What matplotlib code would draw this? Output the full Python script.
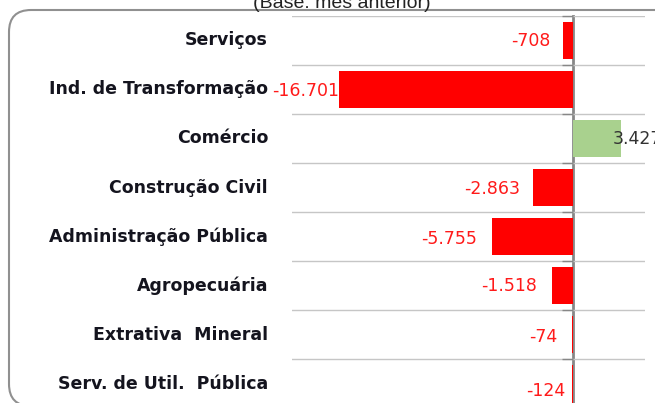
import numpy as np
import matplotlib.pyplot as plt
import matplotlib.transforms as mtransforms
from matplotlib.patches import FancyBboxPatch

# saldo de empregos por setor (base: mês anterior)
setores = ["Serviços", "Ind. de Transformação", "Comércio", "Construção Civil",
           "Administração Pública", "Agropecuária", "Extrativa  Mineral",
           "Serv. de Util.  Pública"]
saldo = [-708, -16701, 3427, -2863, -5755, -1518, -74, -124]

# deslocamento dos rótulos de valor (pixels)
desloc_x = [13, 0, -9, 13, 15, 15, 15, 6]
desloc_y = [-1, -2, -1, -1, -2, 0, -2, -7]

W, H = 655, 403
fig = plt.figure(figsize=(W / 100, H / 100), dpi=100)

# moldura arredondada
moldura = FancyBboxPatch((9, -3), 680, 396, boxstyle="round,pad=0,rounding_size=22",
                         transform=mtransforms.IdentityTransform(),
                         facecolor="none", edgecolor="#909090", lw=1.5)
fig.add_artist(moldura)

fig.text(342 / W, 1 - 8 / H, "(Base: mês anterior)", ha="center", va="baseline",
         fontsize=14, family="Liberation Sans", color="#222222")

x0, x1, zero = 292, 645, 573.3
ax = fig.add_axes([x0 / W, -5.4 / H, (x1 - x0) / W, (403 - 15.7 + 5.4) / H])
ax.patch.set_alpha(0)

y = np.arange(len(setores))
cores = ["#a9d18e" if v > 0 else "#ff0000" for v in saldo]
ax.barh(y, saldo, height=0.76, color=cores, zorder=2)

px = 14.05 / 1000
ax.set_xlim((x0 - zero) / px, (x1 - zero) / px)
ax.set_ylim(len(setores) - 0.5, -0.5)

for s in ["top", "right", "bottom"]:
    ax.spines[s].set_visible(False)
ax.spines["left"].set_position(("data", 0))
ax.spines["left"].set_color("#878787")
ax.spines["left"].set_linewidth(2)
ax.spines["left"].set_zorder(1.5)

ax.set_xticks([])
ax.set_yticks(np.arange(-0.5, len(setores), 1))
ax.set_yticklabels([])
ax.tick_params(axis="y", length=8, width=1, color="#878787", direction="out")
ax.grid(axis="y", color="#c6c6c6", lw=1, zorder=0)

trans = mtransforms.blended_transform_factory(fig.transFigure, ax.transData)
for i, nome in enumerate(setores):
    ax.text(268 / W, i, nome, transform=trans, ha="right", va="center",
            fontsize=12.5, fontweight="bold", family="DejaVu Sans", color="#14141e")

for i, v in enumerate(saldo):
    txt = f"{v:,}".replace(",", ".")
    if v < 0:
        ax.annotate(txt, xy=(v, i), xytext=(-desloc_x[i], desloc_y[i]),
                    textcoords="offset pixels", ha="right", va="center",
                    fontsize=12.5, family="DejaVu Sans", color="#ff1a1a", zorder=4,
                    annotation_clip=False)
    else:
        ax.annotate(txt, xy=(v, i), xytext=(desloc_x[i], desloc_y[i]),
                    textcoords="offset pixels", ha="left", va="center",
                    fontsize=12.5, family="DejaVu Sans", color="#333333", zorder=4,
                    annotation_clip=False)

fig.savefig("out.png", dpi=100)
